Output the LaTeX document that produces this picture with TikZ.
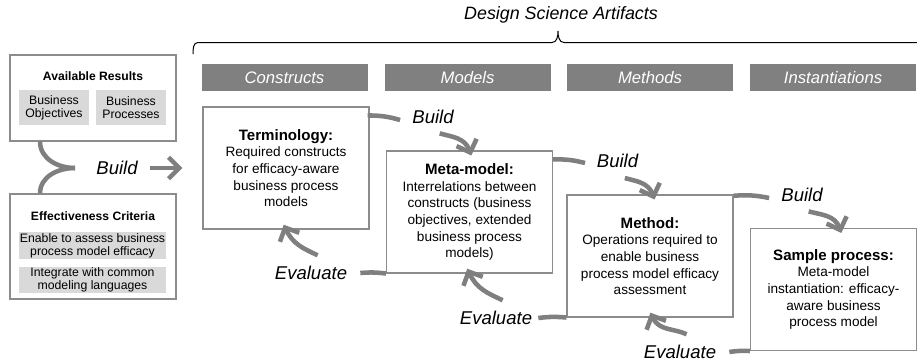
\documentclass[tikz,border=0pt]{standalone}
\usepackage{fontspec}
\setmainfont{Liberation Sans}
\usetikzlibrary{arrows.meta}
\definecolor{flowgray}{HTML}{7F7F7F}
\definecolor{framegray}{HTML}{8C8C8C}
\definecolor{headgray}{HTML}{808080}
\definecolor{softgray}{HTML}{D9D9D9}
\newcommand{\boxhead}[1]{{\fontsize{11.3}{12.5}\selectfont\bfseries #1}}
\begin{document}
\begin{tikzpicture}[x=0.75pt,y=-0.75pt,
	header/.style={fill=headgray,text=white,inner sep=0pt,minimum width=124.5pt,minimum height=20.25pt,font=\fontsize{12.5}{15}\selectfont\itshape},
	artifact/.style={draw=framegray,line width=0.8pt,inner sep=0pt,minimum width=124.5pt,minimum height=91.5pt,align=center,font=\fontsize{10.2}{12.5}\selectfont},
	source/.style={draw=framegray,line width=0.8pt,inner sep=0pt,minimum width=124.5pt},
	item/.style={fill=softgray,inner sep=0pt,align=center,font=\fontsize{9.2}{9.5}\selectfont},
	steplabel/.style={inner sep=0pt,font=\fontsize{13.9}{16}\selectfont\itshape},
	flowline/.style={draw=flowgray,line width=3.4pt},
	tip/.style={-{Straight Barb[length=8pt,width=16pt]}}]
	\useasboundingbox (0,0) rectangle (917,362);
	% title and brace
	\node[font=\fontsize{13.4}{16}\selectfont\itshape] (dsa) at (561,15) {Design Science Artifacts};
	\draw[line width=0.75pt] (193,54) to[out=90,in=180] (198,42.5) -- (552,42.5)
		to[out=0,in=-90] (558,31) to[out=-90,in=180] (564,42.5) -- (930,42.5);
	% column heads
	\node[header] (hcon) at (284.5,77.5) {Constructs};
	\node[header] (hmod) at (467.5,77.5) {Models};
	\node[header] (hmet) at (650,77.5) {Methods};
	\node[header] (hins) at (833,77.5) {Instantiations};
	% inputs on the left
	\node[source,minimum height=64.5pt] (avail) at (93,98) {};
	\node[font=\fontsize{9.1}{11}\selectfont\bfseries] (availtitle) at (93,76) {Available Results};
	\node[item,minimum width=52.5pt,minimum height=26.25pt] (bobj) at (54,107.5) {Business\\Objectives};
	\node[item,minimum width=52.5pt,minimum height=26.25pt] (bproc) at (131,107.5) {Business\\Processes};
	\node[source,minimum height=78.75pt] (effect) at (93,246.5) {};
	\node[font=\fontsize{9.1}{11}\selectfont\bfseries] (effecttitle) at (93,216) {Effectiveness Criteria};
	\node[item,minimum width=110.25pt,minimum height=20.25pt] (enable) at (92.5,245.5) {Enable to assess business\\process model efficacy};
	\node[item,minimum width=110.25pt,minimum height=19.5pt] (integ) at (92.5,280) {Integrate with common\\modeling languages};
	% artifacts
	\node[artifact] (term) at (286,168) {\boxhead{Terminology:}\\Required constructs\\for efficacy-aware\\business process\\models};
	\node[artifact] (meta) at (469.5,212) {\boxhead{Meta-model:}\\Interrelations between\\constructs (business\\objectives, extended\\business process\\models)};
	\node[artifact] (method) at (650,256) {\boxhead{Method:}\\Operations required to\\enable business\\process model efficacy\\assessment};
	\node[artifact] (sample) at (833.5,289.5) {\boxhead{Sample process:}\\Meta-model\\instantiation: efficacy-\\aware business\\process model};
	% step labels
	\node[steplabel] (lbuild) at (117,168) {Build};
	\node[steplabel] (b1) at (433,117) {Build};
	\node[steplabel] (b2) at (617.5,161) {Build};
	\node[steplabel] (b3) at (802,195) {Build};
	\node[steplabel] (e1) at (311,273) {Evaluate};
	\node[steplabel] (e2) at (496,318) {Evaluate};
	\node[steplabel] (e3) at (680,352) {Evaluate};
	% build from the inputs
	\coordinate (fork) at (75,168);
	\draw[flowline] ([xshift=-39.75pt]avail.south) to[out=-90,in=180] (fork);
	\draw[flowline] ([xshift=-39.75pt]effect.north) to[out=90,in=180] (fork);
	\draw[flowline,tip] ([xshift=9pt]lbuild.east) -- ([xshift=-15pt]lbuild.east -| term.west);
	% build steps
	\draw[flowline] ([xshift=-1.5pt,yshift=-6.75pt]term.north east) to[bend left=8] ([xshift=-9pt,yshift=-2.25pt]b1.west);
	\draw[flowline,tip,shorten >=-4pt] ([xshift=5pt,yshift=-7pt]b1.south) to[out=-15,in=110] (meta.north);
	\draw[flowline] ([yshift=-6.75pt]meta.north east) to[bend left=8] ([xshift=-8.7pt,yshift=-1.5pt]b2.west);
	\draw[flowline,tip,shorten >=-4pt] ([xshift=5.5pt,yshift=-7.5pt]b2.south) to[out=-15,in=110] ([xshift=2pt]method.north);
	\draw[flowline] ([yshift=-1pt]method.north east) to[bend left=8] ([xshift=-9pt,yshift=-2.25pt]b3.west);
	\draw[flowline,tip,shorten >=-4pt] ([xshift=5pt,yshift=-7pt]b3.south) to[out=-15,in=110] ([xshift=4.5pt]sample.north);
	% evaluate steps
	\draw[flowline] (meta.south west) to[bend right=6] ([xshift=9.75pt]e1.east);
	\draw[flowline,tip,shorten >=-4pt] ([xshift=5pt,yshift=8pt]e1.north) to[out=155,in=-65] (term.south);
	\draw[flowline] (method.south west) to[bend right=6] ([xshift=4.5pt]e2.east);
	\draw[flowline,tip,shorten >=-4pt] ([xshift=5pt,yshift=8pt]e2.north) to[out=155,in=-65] (meta.south);
	\draw[flowline] (sample.south west) to[bend right=6] ([xshift=9.75pt]e3.east);
	\draw[flowline,tip,shorten >=-4pt] ([xshift=5pt,yshift=8pt]e3.north) to[out=155,in=-65] ([xshift=2pt]method.south);
\end{tikzpicture}
\end{document}
